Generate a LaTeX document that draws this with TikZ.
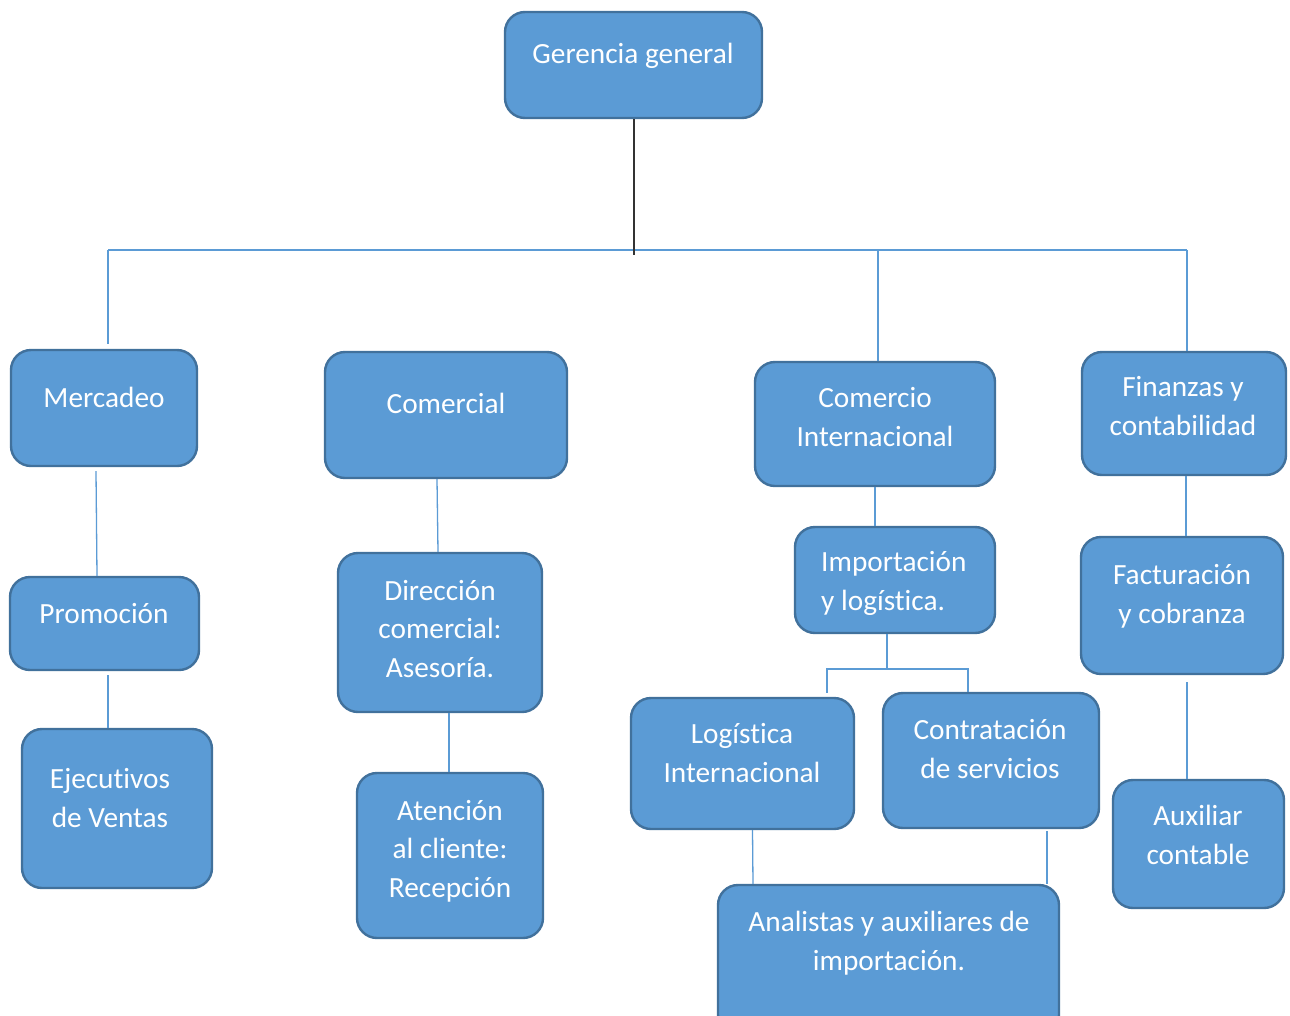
\documentclass[tikz,border=0pt]{standalone}
\usepackage{fontspec}
\setmainfont{Carlito}[Ligatures=NoCommon]
\definecolor{boxfill}{HTML}{5B9BD5}
\definecolor{boxedge}{HTML}{41719C}
\definecolor{connblue}{HTML}{5B9BD5}
\definecolor{darkline}{HTML}{333333}
\tikzset{
  box/.style={draw=boxedge, fill=boxfill, rounded corners=20pt, line width=2.4pt, inner sep=0pt},
  lbl/.style={text=white, inner sep=0pt, font=\fontsize{29.3}{38.6}\selectfont},
  conn/.style={draw=connblue, line width=1.3pt},
  trunk/.style={draw=darkline, line width=2pt}
}
\newcommand{\ctrtxt}[1]{\begin{tabular}{@{}c@{}}#1\end{tabular}}
\newcommand{\lfttxt}[1]{\begin{tabular}{@{}l@{}}#1\end{tabular}}
\begin{document}
\begin{tikzpicture}[x=1pt,y=-1pt]
\path[use as bounding box, fill=white] (0,0) rectangle (1290,1015);
\clip (0,0) rectangle (1290,1015);
% boxes
\node[box, minimum width=257pt, minimum height=106pt] (ger) at (633.5,65) {};
\node[box, minimum width=186pt, minimum height=116pt] (merc) at (104,408) {};
\node[box, minimum width=242pt, minimum height=126pt] (comer) at (446,415) {};
\node[box, minimum width=240pt, minimum height=124pt] (cint) at (875,424) {};
\node[box, minimum width=204pt, minimum height=123pt] (fin) at (1184,413.5) {};
\node[box, minimum width=189pt, minimum height=93pt] (promo) at (104.5,623.5) {};
\node[box, minimum width=204pt, minimum height=159pt] (dir) at (440,632.5) {};
\node[box, minimum width=200pt, minimum height=106pt] (imp) at (895,580) {};
\node[box, minimum width=202pt, minimum height=137pt] (fact) at (1182,605.5) {};
\node[box, minimum width=190pt, minimum height=159pt] (ejec) at (117,808.5) {};
\node[box, minimum width=186pt, minimum height=165pt] (aten) at (450,855.5) {};
\node[box, minimum width=223pt, minimum height=131pt] (logi) at (742.5,763.5) {};
\node[box, minimum width=216pt, minimum height=135pt] (contr) at (991,760.5) {};
\node[box, minimum width=171pt, minimum height=128pt] (aux) at (1198.5,844) {};
\node[box, minimum width=341pt, minimum height=150pt] (anal) at (888.5,960) {};
% texts
\node[lbl] (tger) at (633,56) {\ctrtxt{Gerencia general}};
\node[lbl] (tmerc) at (104,400) {\ctrtxt{Mercadeo}};
\node[lbl] (tcomer) at (446,406) {\ctrtxt{Comercial}};
\node[lbl] (tcint) at (875,419) {\ctrtxt{Comercio\\Internacional}};
\node[lbl] (tfin) at (1183,408) {\ctrtxt{Finanzas y\\contabilidad}};
\node[lbl] (tpromo) at (104,616) {\ctrtxt{Promoción}};
\node[lbl] (tdir) at (440,631) {\ctrtxt{Dirección\\comercial:\\Asesoría.}};
\node[lbl, anchor=west] (timp) at (821,583) {\lfttxt{Importación\\y logística.}};
\node[lbl] (tfact) at (1182,596) {\ctrtxt{Facturación\\y cobranza}};
\node[lbl] (tejec) at (110,800) {\ctrtxt{Ejecutivos\\de Ventas}};
\node[lbl] (taten) at (450,851) {\ctrtxt{Atención\\al cliente:\\Recepción}};
\node[lbl] (tlogi) at (742,755) {\ctrtxt{Logística\\Internacional}};
\node[lbl] (tcontr) at (990,751) {\ctrtxt{Contratación\\de servicios}};
\node[lbl] (taux) at (1198,837) {\ctrtxt{Auxiliar\\contable}};
\node[lbl] (tanal) at (889,943) {\ctrtxt{Analistas y auxiliares de\\importación.}};
% main bus
\coordinate (busL) at (108,250);
\coordinate (busC) at (878,250);
\coordinate (busR) at (1187,250);
\draw[conn] (busL) -- (busR);
\draw[conn] (busL) -- ([yshift=5pt]busL |- merc.north);
\draw[conn] (busC) -- (busC |- cint.north);
\draw[conn] (busR) -- (busR |- fin.north);
\draw[trunk] (ger.south) -- ([yshift=-136pt]ger.south);
% Mercadeo branch
\draw[conn] ([xshift=-8pt,yshift=-4pt]merc.south) -- ([xshift=-7.5pt]promo.north);
\draw[conn] ([xshift=3.5pt,yshift=-4pt]promo.south) -- ([xshift=-9pt]ejec.north);
% Comercial branch
\draw[conn] ([xshift=-9pt]comer.south) -- ([xshift=-2pt]dir.north);
\draw[conn] ([xshift=9pt]dir.south) -- ([xshift=-1pt]aten.north);
% Comercio internacional branch
\draw[conn] (cint.south) -- (cint.south |- imp.north);
\coordinate (brL) at (827,669);
\coordinate (brR) at (968,669);
\draw[conn] ([xshift=-8pt]imp.south) -- ([xshift=-8pt]imp.south |- brL);
\draw[conn] ([yshift=4pt]brL |- logi.north) -- (brL) -- (brR) -- (brR |- contr.north);
\draw[conn] ([xshift=10pt]logi.south) -- ([xshift=-135.5pt]anal.north);
\draw[conn] ([xshift=56pt,yshift=-2pt]contr.south) -- ([xshift=158.5pt]anal.north);
% Finanzas branch
\draw[conn] ([xshift=2pt]fin.south) -- ([xshift=4pt]fact.north);
\draw[conn] ([xshift=5pt,yshift=-7pt]fact.south) -- ([xshift=-11.5pt]aux.north);
\end{tikzpicture}
\end{document}
